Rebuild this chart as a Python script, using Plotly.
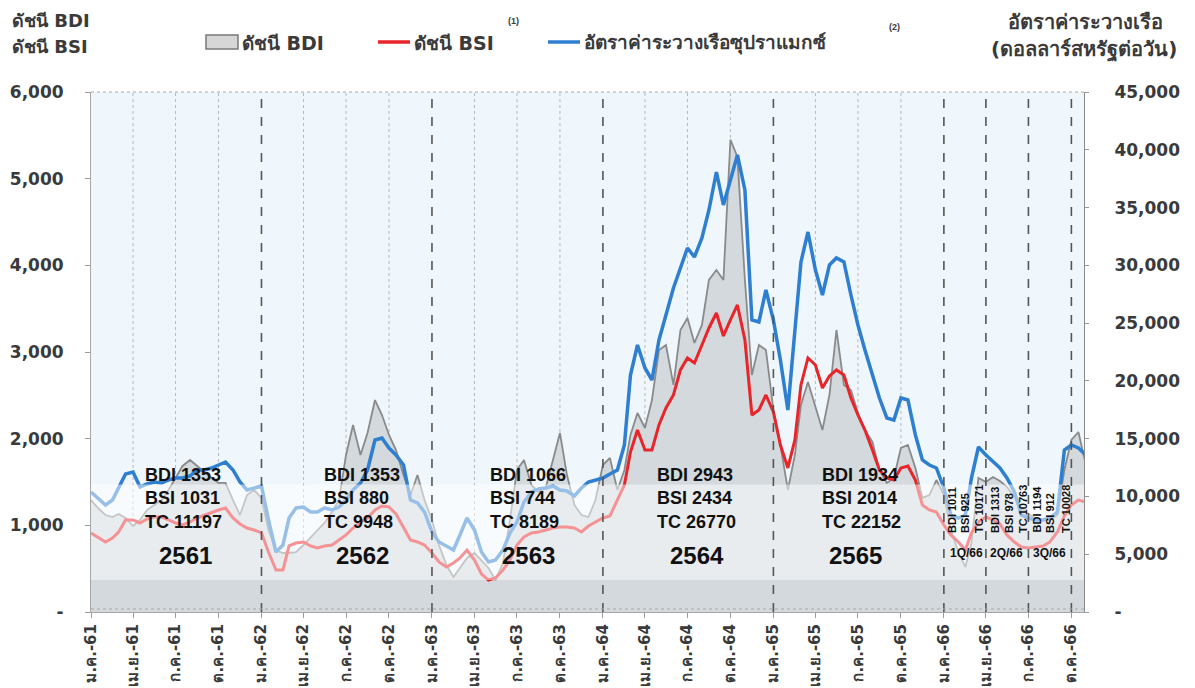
import plotly.graph_objects as go

# ---------------- data (semi-monthly readings, 1st & 16th of each month, Jan-2018 .. Nov-2023) ----------------
start_year = 2018
n_points = 141

bdi = [1292, 1200, 1119, 1096, 1131, 1085, 992, 1062, 1177, 1235,
       1292, 1408, 1546, 1685, 1754, 1685, 1616, 1546, 1489, 1489,
       1292, 1119, 1350, 1408, 1316, 946, 715, 681, 681, 692,
       773, 866, 946, 1027, 1154, 1292, 1812, 2158, 1812, 2066,
       2446, 2273, 2043, 1869, 1581, 1350, 1581, 1292, 1062, 773,
       542, 404, 508, 623, 681, 600, 508, 369, 565, 1062,
       1639, 1754, 1466, 1385, 1443, 1754, 2066, 1581, 1235, 1119,
       1096, 1292, 1696, 1777, 1408, 1639, 2043, 2296, 2123, 2446,
       3023, 3081, 2620, 3254, 3393, 3104, 3312, 3831, 3947, 3831,
       5450, 5250, 3831, 2735, 3081, 3023, 2331, 1927, 1408, 1812,
       2389, 2654, 2354, 2100, 2504, 3254, 2620, 2562, 2296, 2100,
       1962, 1639, 1489, 1546, 1893, 1927, 1662, 1316, 1350, 1523,
       1350, 946, 692, 519, 796, 1546, 1500, 1558, 1512, 1443,
       1327, 1200, 1131, 1085, 1062, 1062, 1119, 1639, 1985, 2077,
       1696]

bsi = [912, 866, 808, 854, 923, 1062, 1062, 1027, 1073, 1096,
       1096, 1062, 1027, 1004, 1039, 1085, 1119, 1154, 1177, 1200,
       1085, 1016, 969, 946, 912, 692, 485, 485, 762, 796,
       808, 762, 739, 762, 773, 831, 889, 969, 1039, 1085,
       1177, 1223, 1212, 1131, 969, 831, 808, 773, 681, 577,
       519, 565, 623, 715, 600, 439, 369, 392, 485, 600,
       773, 866, 912, 923, 946, 969, 981, 981, 969, 923,
       992, 1039, 1085, 1108, 1292, 1466, 1846, 2100, 1869, 1869,
       2158, 2354, 2504, 2793, 2931, 2873, 3081, 3277, 3450, 3185,
       3370, 3543, 3139, 2273, 2331, 2504, 2308, 1927, 1662, 1985,
       2620, 2931, 2850, 2585, 2723, 2793, 2735, 2470, 2273, 2100,
       1869, 1639, 1546, 1523, 1662, 1685, 1523, 1235, 1177, 1154,
       1004, 889, 808, 715, 912, 1039, 1096, 1062, 1016, 889,
       808, 750, 739, 750, 762, 808, 923, 1108, 1235, 1292,
       1269]

tc = [10385, 9866, 9260, 9692, 10731, 11942, 12116, 10818, 11077, 11250,
      11164, 11423, 11596, 11596, 11769, 12289, 12289, 12462, 12721, 12981,
      12289, 11250, 10558, 10731, 10904, 7962, 5192, 5798, 8135, 9000,
      9087, 8654, 8654, 9000, 8827, 9087, 9692, 10558, 11164, 12289,
      14885, 15058, 14192, 13587, 12721, 9692, 9433, 8654, 6923, 6058,
      5712, 5365, 6664, 8135, 7096, 5192, 4327, 4500, 5365, 6837,
      7789, 9519, 10385, 10644, 10731, 10904, 10558, 10471, 10039, 10731,
      11250, 11423, 11596, 11942, 12289, 14452, 20510, 23106, 21116, 20077,
      23539, 25702, 28039, 29770, 31501, 30722, 32366, 34789, 38078, 35222,
      37385, 39549, 36520, 25270, 25097, 27866, 25270, 21808, 17481, 24404,
      30289, 32885, 29597, 27433, 30029, 30635, 30289, 27433, 24837, 22673,
      20510, 18520, 16789, 16616, 18520, 18346, 15318, 13154, 12721, 12462,
      10731, 8394, 8135, 8394, 11596, 14279, 13587, 12981, 12462, 11596,
      10385, 8394, 8135, 7962, 7962, 8135, 8654, 14019, 14452, 14192,
      13587]

dates = []
for k in range(n_points):
    m = k // 2
    y = start_year + m // 12
    mo = m % 12 + 1
    d = 1 if k % 2 == 0 else 16
    dates.append(f"{y}-{mo:02d}-{d:02d}")

month_names = ["ม.ค.", "เม.ย.", "ก.ค.", "ต.ค."]
month_nums = [1, 4, 7, 10]
thai_years = ["61", "62", "63", "64", "65", "66"]

year_labels = ["2561", "2562", "2563", "2564", "2565"]
year_bdi = [1353, 1353, 1066, 2943, 1934]
year_bsi = [1031, 880, 744, 2434, 2014]
year_tc = [11197, 9948, 8189, 26770, 22152]

q_labels = ["1Q/66", "2Q/66", "3Q/66"]
q_bdi = [1011, 1313, 1194]
q_bsi = [925, 978, 912]
q_tc = [10171, 10763, 10028]

left_ticks = [0, 1000, 2000, 3000, 4000, 5000, 6000]
right_ticks = [0, 5000, 10000, 15000, 20000, 25000, 30000, 35000, 40000, 45000]

# ---------------- layout helpers ----------------
W, H = 1195, 688
L, R, T, B = 91, 1084, 92, 612


def px(x):
    return (x - L) / (R - L)


def py(y):
    return (B - y) / (B - T)


FONT_TH = "Tahoma, 'DejaVu Sans', 'Noto Sans', sans-serif"
FONT_NUM = "'DejaVu Sans', Verdana, sans-serif"
FONT_ARIAL = "'Liberation Sans', Arial, sans-serif"
DARK = "#3a3a3a"

fig = go.Figure()
fig.add_trace(go.Scatter(x=dates, y=bdi, name="ดัชนี BDI", mode="lines",
                         line=dict(color="#8a8a8a", width=1.8),
                         fill="tozeroy", fillcolor="#d3d9dc", showlegend=False))
fig.add_trace(go.Scatter(x=dates, y=bsi, name="ดัชนี BSI", mode="lines",
                         line=dict(color="#e8252a", width=3), showlegend=False))
fig.add_trace(go.Scatter(x=dates, y=tc, name="อัตราค่าระวางเรือซุปราแมกซ์", mode="lines",
                         line=dict(color="#2f7fd0", width=3.5), yaxis="y2", showlegend=False))

tickvals = []
ticktext = []
for yi, ty in enumerate(thai_years):
    for mn, mname in zip(month_nums, month_names):
        tickvals.append(f"{start_year + yi}-{mn:02d}-01")
        ticktext.append(f"{mname}-{ty}")

shapes = []
# faded band (semi-transparent white overlay)
shapes.append(dict(type="rect", xref="paper", yref="y", x0=0, x1=1, y0=370, y1=1470,
                   fillcolor="rgba(255,255,255,0.5)", line=dict(width=0), layer="above"))
# quarter dotted lines
for yi in range(5):
    for mn in [4, 7, 10]:
        shapes.append(dict(type="line", xref="x", yref="paper",
                           x0=f"{start_year + yi}-{mn:02d}-01", x1=f"{start_year + yi}-{mn:02d}-01",
                           y0=0, y1=1, line=dict(color="#b8b8b8", width=1, dash="dot"), layer="below"))
# year dashed lines and 2566 quarter dashed lines
dash_dates = ["2019-01-01", "2020-01-01", "2021-01-01", "2022-01-01", "2023-01-01",
              "2023-04-01", "2023-07-01", "2023-10-01"]
for d in dash_dates:
    shapes.append(dict(type="line", xref="x", yref="paper", x0=d, x1=d, y0=0, y1=1,
                       line=dict(color="#555555", width=1.6, dash="dash"), layer="above"))
# dotted top/bottom borders
shapes.append(dict(type="line", xref="paper", yref="paper", x0=0, x1=1, y0=1, y1=1,
                   line=dict(color="#a8a8a8", width=1, dash="dot")))
shapes.append(dict(type="line", xref="paper", yref="paper", x0=0, x1=1, y0=py(609), y1=py(609),
                   line=dict(color="#a8a8a8", width=1, dash="dot"), layer="above"))
# legend swatches
shapes.append(dict(type="rect", xref="paper", yref="paper", x0=px(206), x1=px(238),
                   y0=py(49), y1=py(35), fillcolor="#d6d6d6", line=dict(color="#7a7a7a", width=1.5)))
shapes.append(dict(type="line", xref="paper", yref="paper", x0=px(378), x1=px(410),
                   y0=py(42), y1=py(42), line=dict(color="#e8252a", width=3.5)))
shapes.append(dict(type="line", xref="paper", yref="paper", x0=px(548), x1=px(580),
                   y0=py(42), y1=py(42), line=dict(color="#2f7fd0", width=3.5)))

ann = []


def add_text(text, x, y, size, xanchor="left", yanchor="middle", family=FONT_TH, color=DARK,
             angle=0, align="left"):
    ann.append(dict(text=text, x=px(x), y=py(y), xref="paper", yref="paper", showarrow=False,
                    xanchor=xanchor, yanchor=yanchor, align=align, textangle=angle,
                    font=dict(family=family, size=size, color=color, weight="bold")))


# legend text
add_text("ดัชนี BDI", 240, 43, 19)
add_text("ดัชนี BSI", 412, 43, 19)
add_text("อัตราค่าระวางเรือซุปราแมกซ์", 582, 43, 19)
add_text("(1)", 506, 21, 9, family=FONT_ARIAL)
add_text("(2)", 887, 27, 9, family=FONT_ARIAL)
# axis titles
add_text("ดัชนี BDI", 10, 20, 18)
add_text("ดัชนี BSI", 10, 46, 18)
add_text("อัตราค่าระวางเรือ", 1085, 22, 20, xanchor="center")
add_text("(ดอลลาร์สหรัฐต่อวัน)", 1084, 50, 20, xanchor="center")

# yearly averages
year_text_x = [143, 322, 488, 655, 820]
year_num_x = [185, 362, 528, 697, 855]
for i in range(5):
    add_text(f"BDI {year_bdi[i]}<br>BSI {year_bsi[i]}<br>TC {year_tc[i]}", year_text_x[i], 498, 18,
             family=FONT_ARIAL, color="#111111")
    add_text(year_labels[i], year_num_x[i], 555, 24, xanchor="center", family=FONT_ARIAL, color="#111111")

# quarterly averages 2566 (rotated)
q_cols = [[952, 965, 979], [995, 1009, 1023], [1036, 1050, 1066]]
q_num_x = [966, 1006, 1049]
for i in range(3):
    texts = [f"BDI {q_bdi[i]}", f"BSI {q_bsi[i]}", f"TC {q_tc[i]}"]
    for t, xx in zip(texts, q_cols[i]):
        add_text(t, xx, 535, 11, xanchor="center", yanchor="bottom", family=FONT_ARIAL,
                 color="#111111", angle=-90)
    add_text(q_labels[i], q_num_x[i], 553, 12, xanchor="center", family=FONT_ARIAL, color="#111111")

fig.update_layout(
    width=W, height=H,
    margin=dict(l=L, r=W - R, t=T, b=H - B),
    paper_bgcolor="white",
    plot_bgcolor="#eff7fc",
    shapes=shapes,
    annotations=ann,
    xaxis=dict(type="date", range=["2018-01-01", "2023-10-28"], tickvals=tickvals, ticktext=ticktext,
               tickangle=-90, tickfont=dict(family=FONT_TH, size=15, color=DARK, weight="bold"),
               ticks="outside", ticklen=5, tickcolor="#9a9a9a", showline=True, linecolor="#a6a6a6",
               showgrid=False, zeroline=False, automargin=False),
    yaxis=dict(range=[0, 6000], tickvals=left_ticks,
               ticktext=["-" if v == 0 else f"{v:,}" for v in left_ticks],
               tickfont=dict(family=FONT_NUM, size=17, color=DARK, weight="bold"),
               ticks="outside", ticklen=5, tickcolor="#9a9a9a", showline=True, linecolor="#a6a6a6",
               showgrid=False, zeroline=False, automargin=False, ticklabelstandoff=18),
    yaxis2=dict(range=[0, 45000], tickvals=right_ticks, overlaying="y", side="right",
                ticktext=["-" if v == 0 else f"{v:,}" for v in right_ticks],
                tickfont=dict(family=FONT_NUM, size=17, color=DARK, weight="bold"),
                ticks="outside", ticklen=4, tickcolor="#9a9a9a", showline=True, linecolor="#8a8a8a",
                showgrid=False, zeroline=False, automargin=False, ticklabelstandoff=22),
)

fig.write_html("out.html", config={"displayModeBar": False},
               post_script="document.body.style.margin='0';document.body.style.overflow='hidden';")
